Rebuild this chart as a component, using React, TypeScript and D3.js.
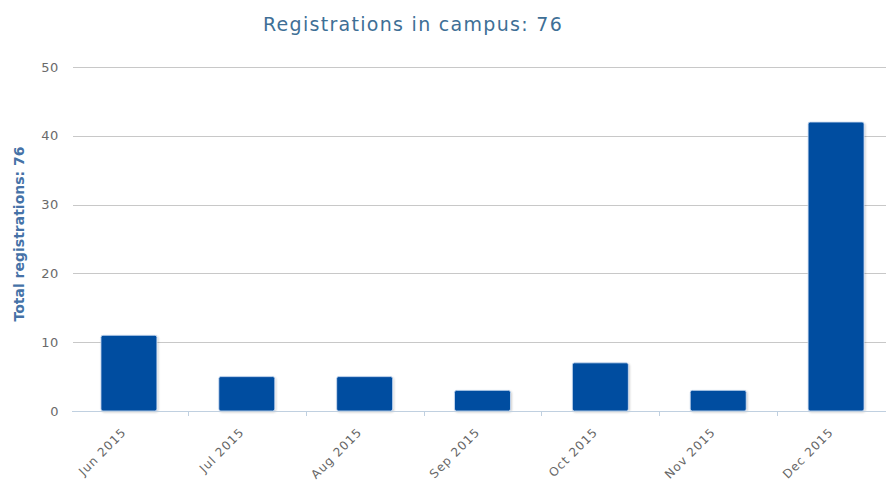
import { useRef, useEffect } from "react";
import * as d3 from "d3";

const months = ["Jun 2015", "Jul 2015", "Aug 2015", "Sep 2015", "Oct 2015", "Nov 2015", "Dec 2015"];
const registrations = [11, 5, 5, 3, 7, 3, 42];
const yTicks = [0, 10, 20, 30, 40, 50];
const titleText = "Registrations in campus: 76";
const yTitleText = "Total registrations: 76";

const App = () => {
  const ref = useRef<SVGSVGElement | null>(null);

  useEffect(() => {
    document.body.style.margin = "0";
    if (!ref.current) return;
    const svg = d3.select(ref.current);
    svg.selectAll("*").remove();

    const font = "'DejaVu Sans', Verdana, sans-serif";
    const left = 70;
    const right = 895;
    const top = 67;
    const bottom = 411;

    const x = d3.scaleBand<string>().domain(months).range([left, right]).paddingInner(0.525).paddingOuter(0.2625);
    const y = d3.scaleLinear().domain([0, 50]).range([bottom, top]);
    const step = x.step();

    // Title
    svg
      .append("text")
      .attr("x", 413)
      .attr("y", 31)
      .attr("text-anchor", "middle")
      .attr("font-family", font)
      .attr("font-size", 19)
      .attr("letter-spacing", 1.3)
      .attr("fill", "#3e6f96")
      .text(titleText);

    // Grid lines
    svg
      .append("g")
      .selectAll("line")
      .data(yTicks.filter((d) => d > 0))
      .join("line")
      .attr("x1", left + 3)
      .attr("x2", 886)
      .attr("y1", (d) => Math.round(y(d)) + 0.5)
      .attr("y2", (d) => Math.round(y(d)) + 0.5)
      .attr("stroke", "#c8c8c8")
      .attr("stroke-width", 1);

    // Y labels
    svg
      .append("g")
      .selectAll("text")
      .data(yTicks)
      .join("text")
      .attr("x", 59)
      .attr("y", (d) => y(d) + 4.5)
      .attr("text-anchor", "end")
      .attr("font-family", font)
      .attr("font-size", 13)
      .attr("letter-spacing", 0.6)
      .attr("fill", "#6a6a6a")
      .text((d) => d);

    // Y title
    svg
      .append("text")
      .attr("transform", `translate(24,234) rotate(-90)`)
      .attr("text-anchor", "middle")
      .attr("font-family", font)
      .attr("font-size", 14)
      .attr("font-weight", "bold")
      .attr("fill", "#4572a7")
      .text(yTitleText);

    // Bar shadow
    const defs = svg.append("defs");
    const filter = defs.append("filter").attr("id", "shadow").attr("x", "-20%").attr("y", "-20%").attr("width", "140%").attr("height", "140%");
    filter.append("feGaussianBlur").attr("in", "SourceAlpha").attr("stdDeviation", 1.2).attr("result", "b");
    filter.append("feOffset").attr("in", "b").attr("dx", 1).attr("dy", 1).attr("result", "o");
    filter.append("feComponentTransfer").attr("in", "o").attr("result", "t").append("feFuncA").attr("type", "linear").attr("slope", 0.2);
    const merge = filter.append("feMerge");
    merge.append("feMergeNode").attr("in", "t");
    merge.append("feMergeNode").attr("in", "SourceGraphic");

    // Bars
    svg
      .append("g")
      .selectAll("rect")
      .data(months)
      .join("rect")
      .attr("x", (d) => x(d) ?? 0)
      .attr("y", (_, i) => y(registrations[i]))
      .attr("width", x.bandwidth())
      .attr("height", (_, i) => y(0) - y(registrations[i]))
      .attr("rx", 2)
      .attr("fill", "#054ea0")
      .attr("stroke", "#cfe0f5")
      .attr("stroke-width", 0.8)
      .attr("filter", "url(#shadow)");

    // X axis line
    svg
      .append("line")
      .attr("x1", left + 2)
      .attr("x2", 886)
      .attr("y1", bottom + 0.5)
      .attr("y2", bottom + 0.5)
      .attr("stroke", "#c0d0e0");

    // Ticks between categories
    svg
      .append("g")
      .selectAll("line")
      .data(months.slice(1))
      .join("line")
      .attr("x1", (d) => Math.round((x(d) ?? 0) - (step - x.bandwidth()) / 2) + 0.5)
      .attr("x2", (d) => Math.round((x(d) ?? 0) - (step - x.bandwidth()) / 2) + 0.5)
      .attr("y1", bottom)
      .attr("y2", bottom + 5)
      .attr("stroke", "#c0d0e0");

    // X labels
    svg
      .append("g")
      .selectAll("text")
      .data(months)
      .join("text")
      .attr("transform", (d) => `translate(${(x(d) ?? 0) + x.bandwidth() / 2 - 2},${bottom + 22}) rotate(-45)`)
      .attr("text-anchor", "end")
      .attr("font-family", font)
      .attr("font-size", 12)
      .attr("letter-spacing", 1)
      .attr("fill", "#666")
      .text((d) => d);
  }, []);

  return <svg ref={ref} width={886} height={480} style={{ display: "block", background: "#fff" }} />;
};

export default App;
